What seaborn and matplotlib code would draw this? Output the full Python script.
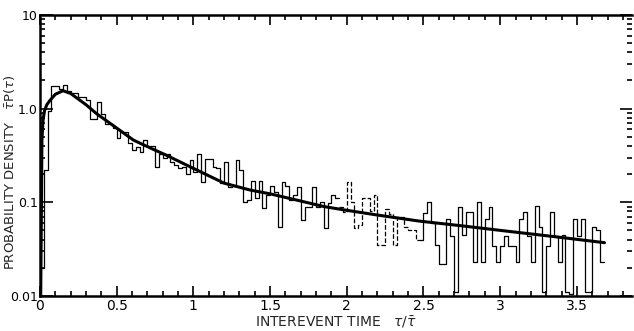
import numpy as np
import pandas as pd
import matplotlib
matplotlib.use("Agg")
import matplotlib.pyplot as plt
import matplotlib.ticker as mticker
import seaborn as sns

BIN_WIDTH = 0.025

# histogram heights, one per bin of width 0.025 starting at tau = 0
hist_values = [
    0.02, 0.22, 0.95, 1.75, 1.75, 1.62, 1.8, 1.55, 1.45, 1.45,
    1.34, 1.34, 1.22, 0.78, 0.78, 1.17, 0.88, 0.69, 0.69, 0.62,
    0.48, 0.56, 0.56, 0.43, 0.36, 0.39, 0.34, 0.46, 0.40, 0.40,
    0.24, 0.33, 0.30, 0.33, 0.27, 0.25, 0.23, 0.24, 0.20, 0.28,
    0.21, 0.33, 0.165, 0.29, 0.29, 0.24, 0.23, 0.16, 0.27, 0.146,
    0.15, 0.28, 0.22, 0.10, 0.105, 0.17, 0.11, 0.17, 0.087, 0.12,
    0.15, 0.13, 0.055, 0.165, 0.15, 0.105, 0.12, 0.146, 0.065, 0.09,
    0.089, 0.146, 0.09, 0.10, 0.053, 0.098, 0.12, 0.11, 0.09, 0.079,
    0.165, 0.10, 0.053, 0.057, 0.11, 0.11, 0.08, 0.12, 0.035, 0.035,
    0.085, 0.075, 0.035, 0.07, 0.07, 0.055, 0.05, 0.05, 0.04, 0.04,
    0.076, 0.1, 0.06, 0.035, 0.022, 0.022, 0.066, 0.044, 0.011, 0.089,
    0.045, 0.078, 0.078, 0.023, 0.1, 0.023, 0.066, 0.089, 0.034, 0.023,
    0.034, 0.044, 0.034, 0.034, 0.023, 0.066, 0.079, 0.044, 0.023, 0.091,
    0.055, 0.011, 0.034, 0.079, 0.044, 0.023, 0.045, 0.011, 0.0105, 0.066,
    0.044, 0.066, 0.011, 0.011, 0.055, 0.05, 0.023,
]

# fitted curve
curve_tau = [0.005, 0.013, 0.02, 0.03, 0.045, 0.065, 0.1, 0.15, 0.2, 0.3,
             0.37, 0.5, 0.61, 0.75, 0.82, 1.0, 1.2, 1.37, 1.5, 1.7,
             1.85, 2.0, 2.2, 2.47, 2.75, 3.05, 3.35, 3.68]
curve_density = [0.01, 0.46, 0.75, 0.95, 1.1, 1.22, 1.42, 1.55, 1.45, 1.1,
                 0.88, 0.62, 0.46, 0.36, 0.32, 0.23, 0.16, 0.135, 0.123, 0.103,
                 0.09, 0.082, 0.073, 0.063, 0.056, 0.049, 0.043, 0.037]

x_ticks = [0, 0.5, 1, 1.5, 2, 2.5, 3, 3.5]
x_tick_labels = ["0", "0.5", "1", "1.5", "2", "2.5", "3", "3.5"]
y_ticks = [0.01, 0.1, 1, 10]
y_tick_labels = ["0.01", "0.1", "1.0", "10"]

# faded (dashed) stretch of the original scan, in bin indices
FADED = (78, 99)

sns.set_style("ticks")
plt.rcParams["font.family"] = ["DejaVu Sans"]

n = len(hist_values)
lefts = np.arange(n) * BIN_WIDTH
df = pd.DataFrame({
    "tau": lefts + BIN_WIDTH / 2,
    "density": hist_values,
})

fig = plt.figure(figsize=(6.34, 3.31), dpi=100)
ax = fig.add_axes([0.063, 0.106, 0.934, 0.849])

parts = [(0, FADED[0], "-"), (FADED[0], FADED[1], "--"), (FADED[1], n, "-")]
for start, stop, ls in parts:
    sns.histplot(
        data=df.iloc[start:stop],
        x="tau",
        weights="density",
        bins=stop - start,
        binrange=(start * BIN_WIDTH, stop * BIN_WIDTH),
        element="step",
        fill=False,
        color="black",
        linewidth=0.9,
        linestyle=ls,
        ax=ax,
    )

sns.lineplot(x=curve_tau, y=curve_density, color="black", linewidth=2.2, sort=False, ax=ax)

ax.set_yscale("log")
ax.set_ylim(0.01, 10)
ax.set_xlim(0, 3.86)

ax.set_xticks(x_ticks)
ax.set_xticklabels(x_tick_labels)
ax.xaxis.set_minor_locator(mticker.MultipleLocator(0.1))
ax.set_yticks(y_ticks)
ax.set_yticklabels(y_tick_labels)
ax.yaxis.set_minor_locator(mticker.LogLocator(base=10, subs=np.arange(2, 10)))
ax.yaxis.set_minor_formatter(mticker.NullFormatter())

ax.tick_params(which="both", direction="in", top=True, right=True, width=1.2, colors="black",
               labelsize=10, pad=2)
ax.tick_params(axis="y", labelsize=9, pad=1.5)
ax.tick_params(which="major", length=7)
ax.tick_params(which="minor", length=3.5)
ax.tick_params(axis="y", which="major", length=9)

for side in ["left", "bottom", "top"]:
    ax.spines[side].set_linewidth(1.8)
    ax.spines[side].set_color("black")
ax.spines["right"].set_visible(False)

ax.set_xlabel(r"INTEREVENT TIME   $\tau/\bar{\tau}$", fontsize=10, labelpad=1)
ax.set_ylabel(r"PROBABILITY DENSITY   $\bar{\tau}$P($\tau$)", fontsize=9.5)
ax.yaxis.set_label_coords(-0.038, 0.44)

plt.savefig("out.png", dpi=100)
plt.close()
